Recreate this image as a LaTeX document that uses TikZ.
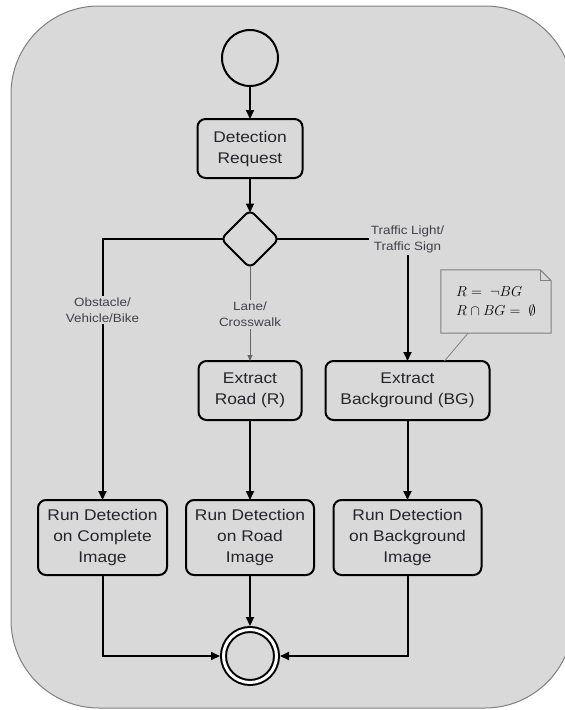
\documentclass[tikz,border=0pt]{standalone}
\usepackage{fontspec}
\setmainfont{Liberation Sans}[FakeStretch=1.12]
\usetikzlibrary{shapes.geometric, arrows.meta, positioning, calc}
\definecolor{panelgray}{RGB}{217,217,217}
\definecolor{framegray}{RGB}{128,128,128}
\definecolor{inkgray}{RGB}{38,36,42}
\definecolor{labelgray}{RGB}{64,64,74}

\begin{document}
\begin{tikzpicture}[
        x=1pt, y=1pt,
        node distance=33pt,
        action/.style={rectangle, rounded corners=8pt, draw=black, line width=2pt, fill=panelgray, minimum height=59pt, align=center, text=inkgray, font=\fontsize{15.5}{21}\selectfont, inner sep=0pt, outer sep=0pt},
        flow/.style={line width=2pt, -{Triangle[length=9pt, width=8pt]}},
        thinflow/.style={line width=0.8pt, draw=black!60, -{Triangle[length=6pt, width=5pt]}},
        guard/.style={fill=panelgray, text=labelgray, align=center, inner sep=2pt, font=\fontsize{12}{16}\selectfont},
        memo/.style={minimum width=110pt, minimum height=63pt, align=left, inner sep=0pt, font=\fontsize{15}{19}\selectfont}
    ]
        \useasboundingbox (0,0) rectangle (565,-710);
        \draw[framegray, fill=panelgray, line width=1pt, rounded corners=88pt] (11,-6) rectangle (573,-708);

        \node[circle, draw, line width=2pt, fill=panelgray, minimum size=56pt, outer sep=0pt] (start) at (250,-58) {};
        \node[action, minimum width=105pt, below=of start] (detreq) {Detection\\Request};
        \node[diamond, draw, line width=2pt, rounded corners=6pt, fill=panelgray, minimum size=58pt, inner sep=0pt, outer sep=0pt, below=32pt of detreq] (choice) {};
        \node[action, minimum width=103pt, below=93pt of choice] (road) {Extract\\Road (R)};
        \node[action, minimum width=164pt, right=24pt of road] (bgx) {Extract\\Background (BG)};
        \node[action, minimum width=128pt, minimum height=75pt, below=80pt of road] (runroad) {Run Detection\\on Road\\Image};
        \node[action, minimum width=129pt, minimum height=75pt, left=19pt of runroad] (runall) {Run Detection\\on Complete\\Image};
        \node[action, minimum width=148pt, minimum height=75pt, right=19.5pt of runroad] (runbg) {Run Detection\\on Background\\Image};
        \node[circle, draw, line width=2pt, double=white, double distance=3pt, fill=panelgray, minimum size=53pt, outer sep=3.5pt, below=51pt of runroad] (finish) {};

        \node[memo] (note) at (496,-301.5) {$R = \;\neg BG$\\$R \cap BG = \;\emptyset$};
        \draw[framegray, line width=1pt] (note.south west) -- (note.south east) -- ($(note.north east)+(0,-11)$) -- ($(note.north east)+(-11,0)$) -- (note.north west) -- cycle;
        \draw[framegray, line width=1pt] ($(note.north east)+(-11,0)$) |- ($(note.north east)+(0,-11)$);
        \draw[framegray, line width=0.8pt] ($(note.south)+(-28,0)$) -- ($(bgx.north)+(37,0)$);

        \draw[flow] (start) -- (detreq);
        \draw[flow, shorten >=-2.5pt] (detreq) -- (choice);
        \draw[flow, shorten <=-2.5pt] (choice.west) -| node[guard, pos=0.636] {Obstacle/\\Vehicle/Bike} (runall.north);
        \draw[flow, shorten <=-2.5pt] (choice.east) -| node[guard] {Traffic Light/\\Traffic Sign} (bgx.north);
        \draw[thinflow, shorten <=-2.5pt] (choice) -- node[guard] {Lane/\\Crosswalk} (road);
        \draw[flow] (road) -- (runroad);
        \draw[flow] (bgx) -- (runbg);
        \draw[flow] (runall) |- (finish);
        \draw[flow] (runbg) |- (finish);
        \draw[flow] (runroad) -- (finish);
    \end{tikzpicture}
\end{document}
